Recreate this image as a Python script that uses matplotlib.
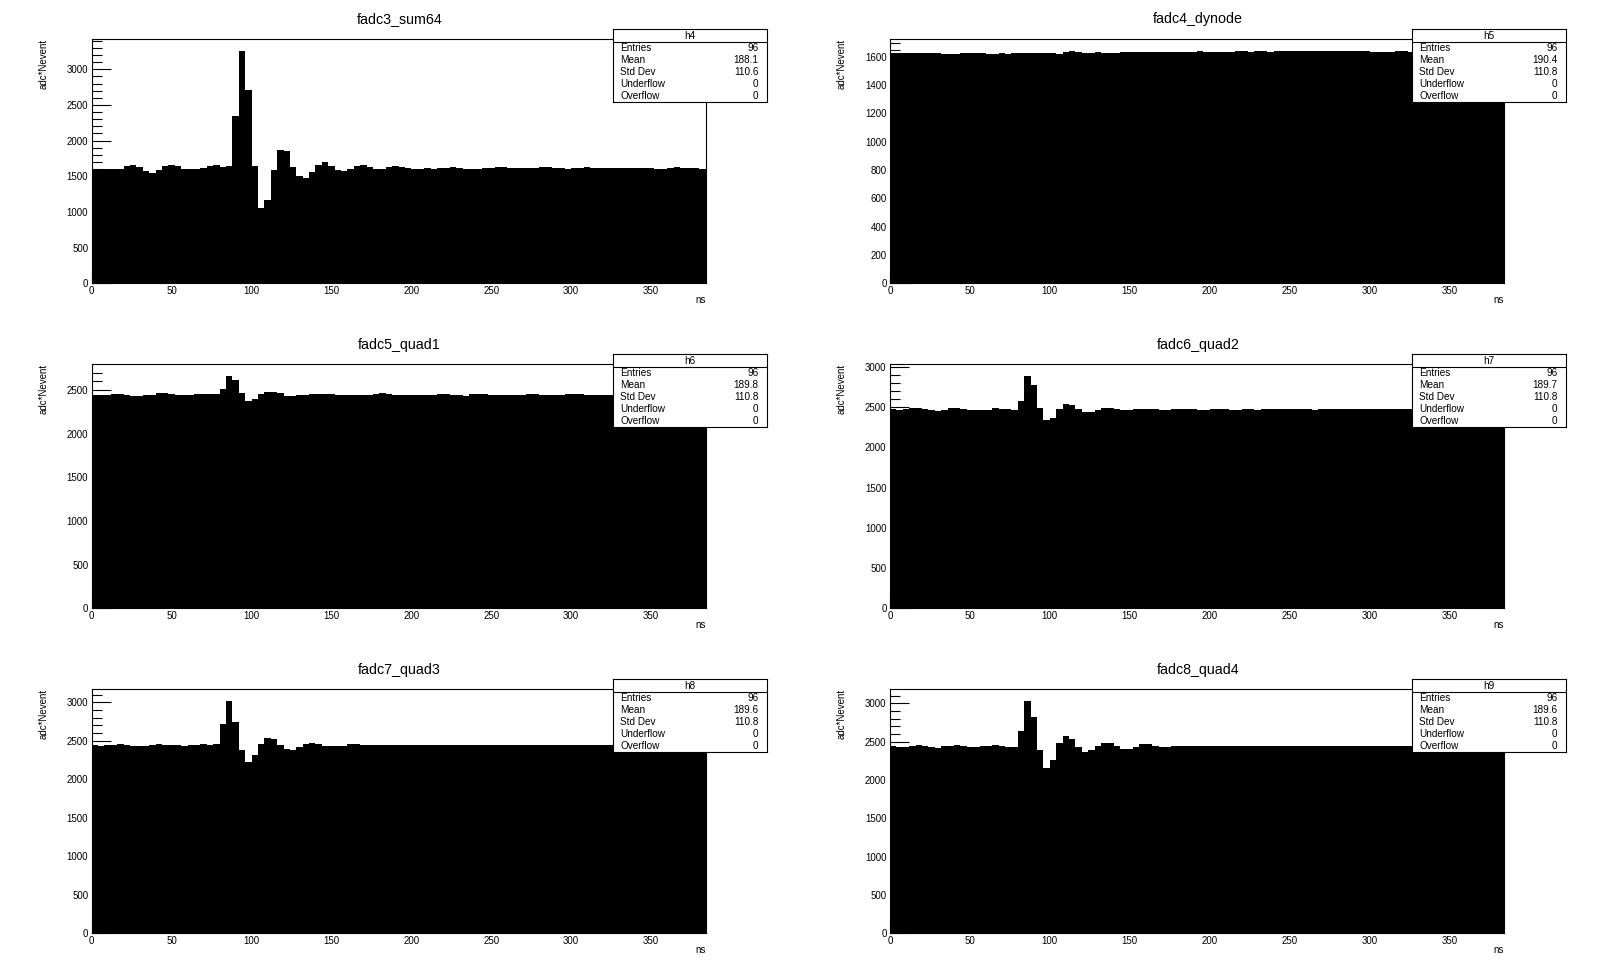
import numpy as np
import matplotlib
matplotlib.use("Agg")
import matplotlib.pyplot as plt
from matplotlib.ticker import MultipleLocator

plt.rcParams['font.family'] = ['Liberation Sans', 'DejaVu Sans']

# ---------------- data ----------------
bin_edges_ns = np.arange(0, 388, 4)  # 96 bins, 4 ns wide (0..384)

titles = ["fadc3_sum64", "fadc4_dynode", "fadc5_quad1",
          "fadc6_quad2", "fadc7_quad3", "fadc8_quad4"]
hist_names = ["h4", "h5", "h6", "h7", "h8", "h9"]
stat_means = ["188.1", "190.4", "189.8", "189.7", "189.6", "189.6"]
stat_stds = ["110.6", "110.8", "110.8", "110.8", "110.8", "110.8"]
stat_entries = ["96"] * 6
stat_under = ["0"] * 6
stat_over = ["0"] * 6

sum64 = [1607, 1607, 1605, 1598, 1605, 1640, 1654, 1630,
         1570, 1551, 1584, 1640, 1659, 1640, 1607, 1598,
         1600, 1617, 1645, 1654, 1630, 1640, 2343, 3257,
         2708, 1642, 1050, 1162, 1584, 1865, 1851, 1630,
         1504, 1476, 1560, 1654, 1696, 1645, 1584, 1570,
         1608, 1640, 1654, 1630, 1603, 1603, 1630, 1640,
         1625, 1612, 1603, 1603, 1612, 1603, 1615, 1618,
         1630, 1618, 1603, 1600, 1603, 1612, 1615, 1628,
         1628, 1615, 1612, 1612, 1612, 1615, 1628, 1628,
         1615, 1612, 1600, 1612, 1615, 1626, 1612, 1612,
         1612, 1612, 1612, 1612, 1612, 1612, 1612, 1612,
         1600, 1600, 1612, 1626, 1618, 1612, 1612, 1598]

dynode = [1628, 1628, 1628, 1628, 1628, 1628, 1626, 1626,
          1620, 1620, 1620, 1626, 1626, 1626, 1626, 1618,
          1618, 1624, 1618, 1624, 1624, 1624, 1624, 1624,
          1624, 1624, 1620, 1630, 1641, 1636, 1628, 1626,
          1634, 1626, 1626, 1626, 1630, 1632, 1632, 1632,
          1632, 1632, 1632, 1632, 1632, 1632, 1632, 1632,
          1640, 1634, 1634, 1634, 1634, 1634, 1640, 1640,
          1635, 1640, 1640, 1634, 1638, 1638, 1638, 1638,
          1638, 1638, 1638, 1638, 1638, 1638, 1638, 1638,
          1638, 1638, 1638, 1634, 1634, 1634, 1634, 1640,
          1640, 1634, 1634, 1634, 1634, 1634, 1634, 1634,
          1634, 1634, 1634, 1634, 1634, 1634, 1634, 1634]

quad1 = [2443, 2443, 2443, 2457, 2457, 2443, 2435, 2435,
         2443, 2443, 2462, 2469, 2457, 2443, 2443, 2443,
         2454, 2454, 2454, 2454, 2512, 2662, 2615, 2460,
         2378, 2400, 2455, 2478, 2478, 2460, 2435, 2435,
         2443, 2443, 2454, 2454, 2454, 2454, 2443, 2443,
         2443, 2443, 2443, 2443, 2454, 2466, 2454, 2443,
         2443, 2443, 2443, 2443, 2443, 2443, 2454, 2454,
         2443, 2443, 2431, 2454, 2454, 2454, 2443, 2443,
         2443, 2443, 2443, 2443, 2454, 2454, 2443, 2443,
         2443, 2443, 2454, 2454, 2454, 2443, 2443, 2443,
         2443, 2443, 2443, 2443, 2443, 2443, 2443, 2443,
         2443, 2443, 2443, 2443, 2443, 2443, 2443, 2443]

quad2 = [2475, 2462, 2475, 2487, 2487, 2475, 2462, 2450,
         2458, 2487, 2487, 2475, 2458, 2458, 2458, 2462,
         2487, 2475, 2475, 2458, 2574, 2888, 2776, 2491,
         2338, 2363, 2475, 2537, 2524, 2475, 2437, 2437,
         2458, 2487, 2487, 2475, 2462, 2462, 2470, 2470,
         2470, 2470, 2462, 2462, 2475, 2475, 2475, 2475,
         2462, 2462, 2475, 2475, 2475, 2462, 2462, 2475,
         2475, 2462, 2470, 2470, 2470, 2470, 2470, 2470,
         2470, 2470, 2458, 2470, 2470, 2470, 2470, 2470,
         2470, 2470, 2470, 2470, 2470, 2470, 2470, 2470,
         2470, 2470, 2470, 2470, 2470, 2470, 2470, 2470,
         2470, 2470, 2470, 2470, 2470, 2470, 2470, 2470]

quad3 = [2448, 2435, 2448, 2448, 2461, 2448, 2435, 2435,
         2435, 2448, 2461, 2448, 2448, 2448, 2435, 2448,
         2448, 2461, 2448, 2461, 2721, 3020, 2747, 2375,
         2229, 2316, 2461, 2539, 2526, 2448, 2396, 2383,
         2422, 2461, 2474, 2461, 2435, 2435, 2435, 2435,
         2455, 2455, 2446, 2446, 2446, 2446, 2446, 2446,
         2446, 2446, 2446, 2446, 2446, 2446, 2440, 2446,
         2446, 2446, 2440, 2446, 2446, 2446, 2446, 2446,
         2446, 2446, 2446, 2446, 2446, 2446, 2446, 2446,
         2446, 2446, 2446, 2446, 2446, 2446, 2446, 2446,
         2446, 2446, 2446, 2446, 2446, 2446, 2446, 2446,
         2446, 2446, 2446, 2446, 2446, 2446, 2446, 2446]

quad4 = [2447, 2434, 2434, 2447, 2460, 2447, 2434, 2421,
         2447, 2447, 2460, 2447, 2434, 2434, 2447, 2447,
         2460, 2447, 2434, 2434, 2643, 3034, 2825, 2386,
         2152, 2261, 2486, 2577, 2538, 2434, 2369, 2386,
         2447, 2486, 2486, 2447, 2408, 2408, 2434, 2473,
         2473, 2447, 2434, 2434, 2447, 2447, 2447, 2447,
         2440, 2448, 2440, 2440, 2448, 2448, 2448, 2440,
         2440, 2448, 2448, 2448, 2448, 2448, 2448, 2448,
         2448, 2448, 2448, 2448, 2448, 2448, 2448, 2448,
         2440, 2448, 2448, 2448, 2448, 2448, 2448, 2448,
         2448, 2448, 2448, 2448, 2448, 2448, 2448, 2448,
         2448, 2448, 2448, 2448, 2448, 2448, 2448, 2448]

series = [sum64, dynode, quad1, quad2, quad3, quad4]
y_major = [500, 200, 500, 500, 500, 500]
y_minor = [100, 50, 100, 100, 100, 100]
x_ticks = [0, 50, 100, 150, 200, 250, 300, 350]

# ---------------- layout (pixels) ----------------
W, H = 1598, 974
fig = plt.figure(figsize=(W / 100, H / 100), dpi=100)
fig.patch.set_facecolor('white')

col_left = [91.7, 890.0]
ax_w = 613.8
row_top = [39.3, 364.2, 689.2]
ax_h = 244.0
title_y = [19.5, 345.0, 670.0]
box_left = [613.3, 1412.3]
box_w = 153.3
box_top = [29.0, 354.0, 679.0]
box_h = 72.7

TICK_FS = 7.0
STAT_FS = 7.2

def px_axes(l, t, w, h, **kw):
    return fig.add_axes([l / W, 1 - (t + h) / H, w / W, h / H], **kw)

for k in range(6):
    r, c = divmod(k, 2)
    ax = px_axes(col_left[c], row_top[r], ax_w, ax_h)
    vals = np.asarray(series[k], dtype=float)
    ax.stairs(vals, bin_edges_ns, fill=True, color='black', baseline=0, zorder=1)
    ax.set_xlim(bin_edges_ns[0], bin_edges_ns[-1])
    ax.set_ylim(0, vals.max() * 1.05)
    ax.set_axisbelow(True)
    ax.yaxis.set_major_locator(MultipleLocator(y_major[k]))
    ax.yaxis.set_minor_locator(MultipleLocator(y_minor[k]))
    ax.set_xticks(x_ticks)
    ax.tick_params(axis='y', which='major', direction='in', length=14, width=0.8,
                   labelsize=TICK_FS, pad=2.5)
    ax.tick_params(axis='y', which='minor', direction='in', length=7, width=0.8)
    ax.tick_params(axis='x', which='major', direction='in', length=8, width=0.8,
                   labelsize=TICK_FS, pad=2.0)
    for sp in ax.spines.values():
        sp.set_linewidth(0.8)
    ax.text(-0.078, 1.0, 'adc*Nevent', rotation=90, ha='center', va='top',
            fontsize=TICK_FS, transform=ax.transAxes)
    ax.text(1.0, -0.067, 'ns', ha='right', va='center', fontsize=TICK_FS,
            transform=ax.transAxes)
    fig.text((col_left[c] - 91.7 + 399.5) / W, 1 - title_y[r] / H, titles[k],
             ha='center', va='center', fontsize=10.3)

    # stats box
    bx = px_axes(box_left[c], box_top[r], box_w, box_h, zorder=10)
    bx.set_xlim(0, box_w)
    bx.set_ylim(box_h, 0)
    bx.set_xticks([])
    bx.set_yticks([])
    bx.set_facecolor('white')
    for sp in bx.spines.values():
        sp.set_linewidth(0.8)
    head_h = 12.5
    bx.axhline(head_h, color='black', lw=0.8)
    bx.text(box_w / 2, head_h / 2 + 0.5, hist_names[k], ha='center', va='center',
            fontsize=STAT_FS)
    row_h = (box_h - head_h) / 5
    labels = ["Entries", "Mean", "Std Dev", "Underflow", "Overflow"]
    values = [stat_entries[k], stat_means[k], stat_stds[k], stat_under[k], stat_over[k]]
    for j, (lab, v) in enumerate(zip(labels, values)):
        yy = head_h + row_h * (j + 0.5)
        bx.text(7.0, yy, lab, ha='left', va='center', fontsize=STAT_FS)
        bx.text(box_w - 8, yy, v, ha='right', va='center', fontsize=STAT_FS)

fig.savefig('out.png', dpi=100, facecolor='white')
